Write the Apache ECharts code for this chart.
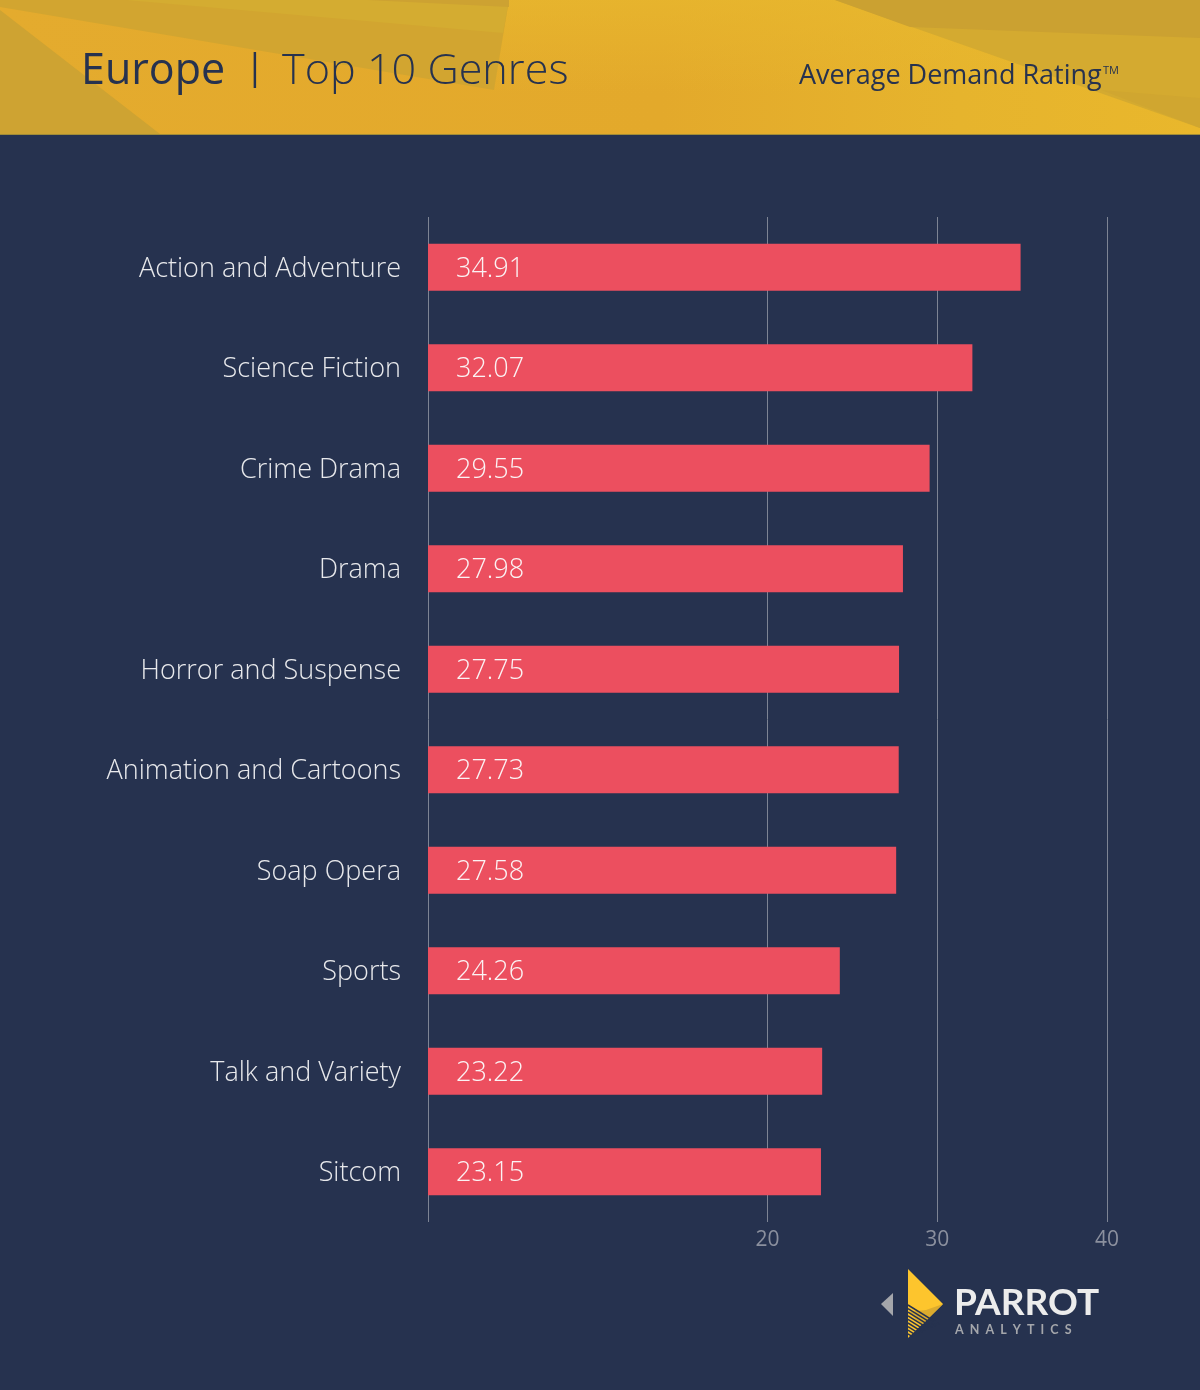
<!DOCTYPE html>
<html>
<head>
<meta charset="utf-8">
<title>Europe | Top 10 Genres</title>
<script src="https://cdn.jsdelivr.net/npm/echarts@6/dist/echarts.min.js"></script>
<style>
  html, body { margin: 0; padding: 0; background: #26324f; }
  #c1 { width: 1200px; height: 1390px; }
</style>
</head>
<body>
<div id="c1"></div>
<script>
var genres = [
  "Action and Adventure", "Science Fiction", "Crime Drama", "Drama", "Horror and Suspense",
  "Animation and Cartoons", "Soap Opera", "Sports", "Talk and Variety", "Sitcom"
];
var ratings = [34.91, 32.07, 29.55, 27.98, 27.75, 27.73, 27.58, 24.26, 23.22, 23.15];
var gridValues = [0, 20, 30, 40];
var tickLabels = [20, 30, 40];

var font = "Open Sans";
var navy = "#26324f";

function poly(points, color) {
  return { type: "polygon", silent: true, shape: { points: points }, style: { fill: color } };
}

// facets of the header banner
var banner = [
  {
    type: "rect", silent: true,
    shape: { x: 0, y: 0, width: 1200, height: 134 },
    style: {
      fill: new echarts.graphic.LinearGradient(0, 0, 1, 0, [
        { offset: 0, color: "#e4ab2e" },
        { offset: 0.55, color: "#e3a92b" },
        { offset: 0.8, color: "#e6b42d" },
        { offset: 1, color: "#e9b72c" }
      ])
    }
  },
  { type: "rect", silent: true, shape: { x: 0, y: 134, width: 1200, height: 1 }, style: { fill: "#a08c38" } },
  poly([[509, 0], [835, 0], [1100, 93], [480, 134]], new echarts.graphic.LinearGradient(0, 0, 0, 1, [
    { offset: 0, color: "rgba(232,184,46,0.7)" },
    { offset: 0.7, color: "rgba(232,184,46,0)" }
  ])),
  poly([[0, 0], [509, 0], [494, 90], [0, 7]], "#d2a530"),
  poly([[126, 0], [509, 0], [503, 33]], "#d4ac31"),
  poly([[367, 0], [509, 0], [509, 7]], "#cda232"),
  poly([[0, 10], [160, 134], [0, 134]], "#cea332"),
  poly([[835, 0], [1200, 128], [1200, 0]], "#d4aa30"),
  poly([[835, 0], [910, 27], [1200, 38], [1200, 0]], "#cba131"),
  poly([[1101, 90], [1200, 98], [1200, 128]], "#d0a630")
];

// logo
var logo = [
  poly([[881, 1304], [893, 1293], [893, 1316]], "#a4a6ab"),
  poly([[908, 1269], [943, 1304], [908, 1338]], "#fdc52d"),
  poly([[943, 1304], [922, 1325], [908, 1312], [926, 1310]], "#dcab2e")
];
for (var s = 0; s < 9; s++) {
  var y0 = 1305 + s * 3.6;
  var run = Math.min(35, (1338 - y0) * 0.95);
  logo.push({
    type: "line", silent: true,
    shape: { x1: 908, y1: y0, x2: 908 + run, y2: y0 + run * 0.62 },
    style: { stroke: navy, lineWidth: 1.5 }
  });
}

var myChart = echarts.init(document.getElementById("c1"));

var option = {
  backgroundColor: navy,
  animation: false,
  title: [
    { text: "Europe", left: 76, top: 45, textStyle: { fontFamily: font, fontSize: 43, fontWeight: 400, color: navy } },
    { text: "|", left: 240, top: 46, textStyle: { fontFamily: font, fontSize: 36, fontWeight: 400, color: navy } },
    { text: "Top 10 Genres", left: 277, top: 45, textStyle: { fontFamily: font, fontSize: 43.2, fontWeight: 300, color: navy } },
    { text: "Average Demand Rating", left: 794, top: 58, textStyle: { fontFamily: font, fontSize: 27, fontWeight: 400, color: navy } },
    { text: "TM", left: 1098, top: 60, textStyle: { fontFamily: font, fontSize: 11, fontWeight: 400, color: navy } },
    { text: "PARROT", left: 949, top: 1280, textStyle: { fontFamily: "Lato", fontSize: 37, fontWeight: 700, color: "#ececec" } },
    { text: "A  N  A  L  Y  T  I  C  S", left: 950, top: 1318, textStyle: { fontFamily: "Lato", fontSize: 12.5, fontWeight: 700, color: "#a4a6ab" } }
  ],
  graphic: banner.concat(logo),
  grid: { left: 428, top: 217, width: 679, height: 1005, containLabel: false },
  xAxis: {
    type: "value",
    min: 0,
    max: 40,
    interval: 10,
    axisLine: { show: false },
    axisTick: { show: false, customValues: gridValues },
    splitLine: { show: true, lineStyle: { color: "#7d8494", width: 1 } },
    axisLabel: {
      customValues: tickLabels,
      margin: 8,
      fontFamily: font,
      fontSize: 21,
      fontWeight: 400,
      color: "#8b909e"
    }
  },
  yAxis: {
    type: "category",
    inverse: true,
    data: genres,
    axisLine: { show: false },
    axisTick: { show: false },
    axisLabel: {
      margin: 27,
      verticalAlign: "top",
      lineHeight: 4,
      fontFamily: font,
      fontSize: 27,
      fontWeight: 300,
      color: "#e8e9ec"
    }
  },
  series: [
    {
      type: "bar",
      data: ratings,
      barWidth: 47,
      itemStyle: { color: "#ec4f5f" },
      label: {
        show: true,
        position: "insideLeft",
        distance: 28,
        offset: [0, 2],
        formatter: function (p) { return p.value.toFixed(2); },
        fontFamily: font,
        fontSize: 27,
        fontWeight: 300,
        color: "#fbf3f4"
      }
    }
  ]
};
myChart.setOption(option);
</script>
</body>
</html>
